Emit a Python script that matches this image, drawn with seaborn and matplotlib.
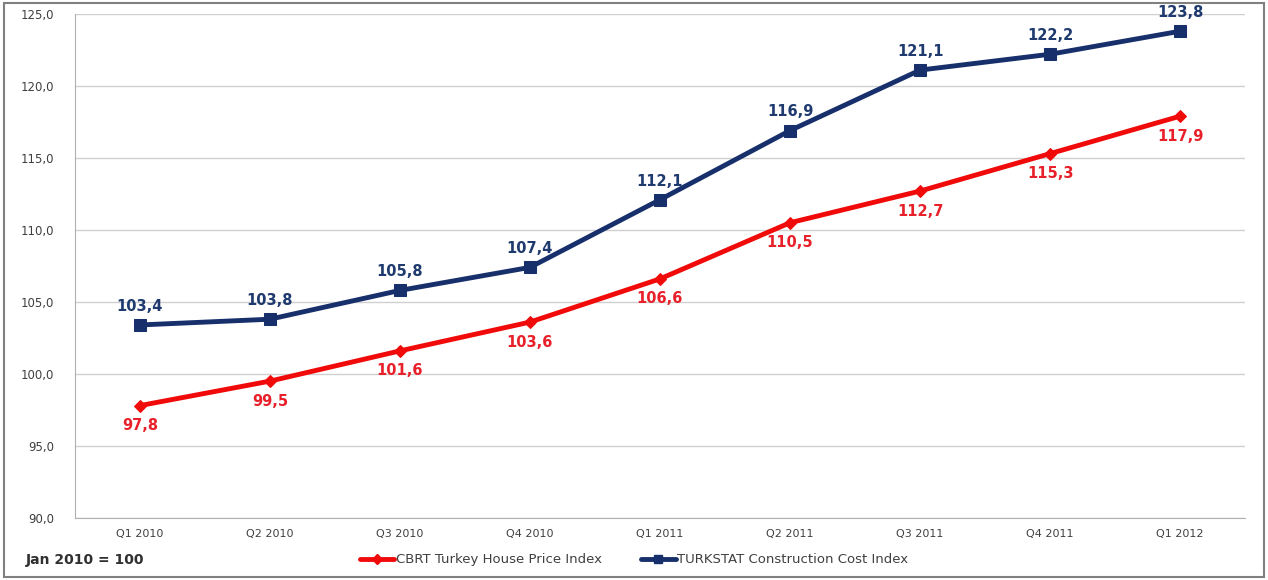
import numpy as np
import pandas as pd
import seaborn as sns
import matplotlib.pyplot as plt
from matplotlib.lines import Line2D

quarters = ['Q1 2010', 'Q2 2010', 'Q3 2010', 'Q4 2010', 'Q1 2011',
            'Q2 2011', 'Q3 2011', 'Q4 2011', 'Q1 2012']
house_price = [97.8, 99.5, 101.6, 103.6, 106.6, 110.5, 112.7, 115.3, 117.9]
construction_cost = [103.4, 103.8, 105.8, 107.4, 112.1, 116.9, 121.1, 122.2, 123.8]
y_ticks = [90, 95, 100, 105, 110, 115, 120, 125]

red = '#F00A0A'
navy = '#17306B'

sns.set_style('white')
plt.rcParams['font.family'] = ['DejaVu Sans']

fig = plt.figure(figsize=(12.68, 5.8), dpi=100)
ax = fig.add_axes([0.059, 0.107, 0.923, 0.869])

df = pd.DataFrame({'pos': np.arange(len(quarters)), 'quarter': quarters,
                   'house': house_price, 'cost': construction_cost})

sns.lineplot(data=df, x='pos', y='cost', ax=ax, color=navy, lw=3.5,
             marker='s', markersize=8, markeredgecolor=navy)
sns.lineplot(data=df, x='pos', y='house', ax=ax, color=red, lw=3.5,
             marker='D', markersize=6, markeredgecolor=red)

# data labels
for i, v in enumerate(construction_cost):
    ax.annotate(f'{v:.1f}'.replace('.', ','), (i, v), xytext=(0, 8),
                textcoords='offset points', ha='center', va='bottom',
                fontsize=10.5, fontweight='bold', color='#1F3A6E')
for i, v in enumerate(house_price):
    ax.annotate(f'{v:.1f}'.replace('.', ','), (i, v), xytext=(0, -9),
                textcoords='offset points', ha='center', va='top',
                fontsize=10.5, fontweight='bold', color='#E8202A')

ax.set_xlim(-0.5, len(quarters) - 0.5)
ax.set_ylim(90, 125)
ax.set_yticks(y_ticks)
ax.set_yticklabels([f'{t:.1f}'.replace('.', ',') for t in y_ticks],
                   fontsize=8.5, color='#404040')
ax.set_xticks(range(len(quarters)))
ax.set_xticklabels(quarters, fontsize=8, color='#404040')
ax.set_xticks(np.arange(-0.5, len(quarters), 1), minor=True)
ax.tick_params(axis='x', which='major', length=0, pad=8)
ax.tick_params(axis='x', which='minor', length=4, color='#B0B0B0')
ax.tick_params(axis='y', length=5, color='#B0B0B0', pad=10)
ax.set_xlabel('')
ax.set_ylabel('')
ax.yaxis.grid(True, color='#D0D0D0', lw=1)
ax.set_axisbelow(True)
for s in ['top', 'right']:
    ax.spines[s].set_visible(False)
ax.spines['left'].set_color('#B0B0B0')
ax.spines['bottom'].set_color('#B0B0B0')

handles = [Line2D([], [], color=red, lw=3.5, marker='D', markersize=5),
           Line2D([], [], color=navy, lw=3.5, marker='s', markersize=6)]
fig.legend(handles, ['CBRT Turkey House Price Index', 'TURKSTAT Construction Cost Index'],
           loc='center', bbox_to_anchor=(0.5, 0.035), ncol=2, frameon=False,
           fontsize=9.5, handlelength=2.6, handletextpad=0.1, columnspacing=3,
           labelcolor='#404040')
fig.text(0.02, 0.035, 'Jan 2010 = 100', fontsize=10, fontweight='bold',
         color='#303030', va='center')

fig.patches.append(plt.Rectangle((0.003, 0.005), 0.994, 0.99, transform=fig.transFigure,
                                 fill=False, edgecolor='#808080', lw=1.5))

fig.savefig('out.png', dpi=100)
